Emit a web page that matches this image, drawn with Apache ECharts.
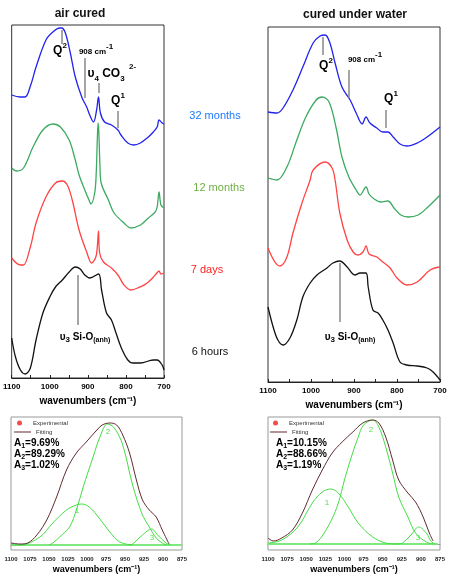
<!DOCTYPE html>
<html>
<head>
<meta charset="utf-8">
<script src="https://cdn.jsdelivr.net/npm/echarts@6/dist/echarts.min.js"></script>
<style>
  html, body { margin: 0; padding: 0; background: #fff; }
  #chart { width: 450px; height: 578px; }
</style>
</head>
<body>
<div id="chart"></div>
<script>
// ---- air cured (top left), wavenumber / absorbance (arb. units, offset) ----
const airWn32 = [1100, 1078, 1065, 1050, 1036, 1010, 992, 974, 969, 959, 946, 933, 915, 903, 895, 885, 877, 872, 867, 856, 838, 821, 813, 795, 779, 762, 744, 728, 718, 713, 705, 700]
const airAb32 = [283, 281, 281, 293, 311, 338, 346, 350, 350, 345, 325, 301, 280, 271, 263, 256, 268, 281, 265, 256, 253, 248, 243, 235, 233, 235, 240, 246, 251, 258, 255, 254]
const airWn12 = [1100, 1087, 1069, 1044, 1018, 992, 972, 949, 933, 923, 908, 897, 892, 882, 878, 875, 873, 871, 868, 865, 846, 831, 805, 787, 762, 741, 723, 718, 713, 708, 700]
const airAb12 = [210, 207, 210, 231, 248, 254, 251, 238, 218, 203, 188, 178, 174, 185, 205, 240, 255, 245, 210, 195, 178, 165, 155, 150, 153, 160, 166, 171, 186, 173, 170]
const airWn7d = [1100, 1077, 1069, 1051, 1036, 1010, 985, 967, 954, 941, 923, 903, 890, 879, 875, 872, 869, 859, 838, 821, 805, 787, 769, 744, 723, 713, 708, 700]
const airAb7d = [120, 113, 113, 131, 155, 181, 195, 197, 193, 178, 148, 126, 115, 121, 132, 147, 125, 116, 110, 103, 93, 88, 90, 95, 103, 107, 104, 105]
const airWn6h = [1100, 1090, 1077, 1064, 1051, 1036, 1018, 1000, 985, 967, 949, 933, 920, 908, 895, 872, 864, 851, 838, 826, 813, 795, 782, 762, 728, 718, 705, 700]
const airAb6h = [40, 21, 8, 4, 10, 38, 65, 81, 91, 98, 106, 111, 109, 103, 100, 104, 88, 65, 58, 45, 31, 18, 15, 15, 18, 18, 13, 8]

// ---- cured under water (top right) ----
const watWn32 = [1100, 1079, 1065, 1042, 1019, 995, 979, 967, 956, 944, 928, 909, 895, 881, 872, 863, 847, 833, 821, 809, 793, 777, 753, 730, 700]
const watAb32 = [270, 269, 274, 292, 315, 339, 346, 347, 339, 319, 295, 282, 269, 258, 265, 259, 254, 250, 250, 245, 238, 236, 239, 245, 255]
const watWn12 = [1100, 1079, 1056, 1033, 1012, 988, 974, 958, 942, 928, 912, 895, 886, 872, 865, 853, 837, 821, 807, 791, 774, 751, 728, 700]
const watAb12 = [204, 202, 215, 242, 265, 282, 285, 280, 255, 225, 205, 192, 187, 195, 188, 183, 180, 181, 174, 167, 165, 167, 175, 187]
const watWn7d = [1100, 1084, 1072, 1056, 1042, 1021, 1002, 995, 967, 951, 944, 933, 916, 902, 891, 879, 872, 865, 847, 833, 816, 800, 777, 753, 723, 700]
const watAb7d = [134, 120, 116, 125, 149, 179, 202, 212, 220, 214, 202, 169, 142, 130, 127, 130, 136, 128, 125, 120, 114, 104, 97, 100, 112, 115]
const watWn6h = [1100, 1088, 1077, 1065, 1049, 1033, 1019, 1002, 986, 963, 949, 933, 916, 898, 886, 872, 867, 856, 844, 833, 821, 809, 793, 777, 753, 730, 716, 700]
const watAb6h = [75, 55, 42, 37, 44, 62, 85, 99, 107, 114, 119, 121, 115, 107, 109, 109, 95, 72, 69, 62, 52, 39, 20, 17, 16, 14, 10, 2]

// ---- deconvolution, air cured (bottom left) ----
const fitAirWn = [1100, 1088, 1078, 1066, 1053, 1040, 1027, 1014, 1001, 987, 980, 970, 961, 953, 944, 935, 927, 918, 909, 901, 892]
const fitAirAb = [2, 1, 2, 10, 25, 48, 75, 92, 103, 115, 120, 122, 120, 110, 92, 65, 45, 35, 28, 15, 1]
const p1AirWn = [1100, 1088, 1062, 1045, 1027, 1014, 1007, 997, 984, 970, 957, 940]
const p1AirAb = [0, 0, 8, 22, 35, 40, 41, 38, 27, 13, 3, 0]
const p2AirWn = [1050, 1045, 1036, 1023, 1014, 1005, 992, 983, 973, 964, 953, 940, 927, 918, 909, 901, 895]
const p2AirAb = [0, 2, 8, 18, 35, 58, 88, 108, 121, 117, 100, 60, 30, 18, 7, 2, 0]
const p3AirWn = [945, 940, 927, 915, 907, 896, 890]
const p3AirAb = [0, 1, 10, 16, 10, 2, 0]

// ---- deconvolution, cured under water (bottom right) ----
const fitWatWn = [1100, 1093, 1082, 1068, 1055, 1042, 1029, 1016, 1003, 989, 976, 963, 955, 946, 937, 929, 917, 907, 897, 889, 884]
const fitWatAb = [6, 3, 6, 14, 31, 54, 74, 91, 102, 112, 121, 124, 121, 107, 84, 64, 51, 42, 27, 11, 3]
const p1WatWn = [1100, 1082, 1061, 1042, 1029, 1018, 1008, 995, 982, 963, 946, 929]
const p1WatAb = [1, 4, 17, 41, 52, 55, 51, 37, 21, 7, 1, 0]
const p2WatWn = [1045, 1038, 1030, 1017, 1008, 1000, 991, 982, 975, 963, 955, 946, 937, 929, 917, 907, 893, 884]
const p2WatAb = [0, 1, 7, 24, 41, 64, 87, 107, 119, 124, 117, 97, 71, 47, 27, 11, 2, 0]
const p3WatWn = [930, 924, 913, 903, 893, 887, 882]
const p3WatAb = [0, 1, 9, 17, 11, 3, 0]

const areasAir = [['1', '9.69%'], ['2', '89.29%'], ['3', '1.02%']]
const areasWat = [['1', '10.15%'], ['2', '88.66%'], ['3', '1.19%']]
const ageLabels = ['32 months', '12 months', '7 days', '6 hours']

const FONT = 'Liberation Sans, Arial, sans-serif'
const BLUE = '#2222ee'
const GREEN = '#3daa62'
const RED = '#ff4444'
const BLACK = '#111111'
const FITG = '#44dd44'
const FITC = '#5e2b2e'

const zip = (xs, ys) => xs.map((x, i) => [x, ys[i]])

const chart = echarts.init(document.getElementById('chart'))

function xAxisTop(grid) {
  return {
    gridIndex: grid, type: 'value', min: 700, max: 1100, interval: 50, inverse: true,
    axisLine: { show: true, lineStyle: { color: '#222', width: 1 } },
    axisTick: { show: true, inside: true, length: 3, lineStyle: { color: '#222' } },
    axisLabel: {
      margin: 5, fontSize: 8, fontWeight: 'bold', color: '#000', fontFamily: FONT,
      formatter: v => (v % 100 === 0 ? String(v) : ''), showMinLabel: true, showMaxLabel: true
    },
    splitLine: { show: false },
    name: 'wavenumbers (cm⁻¹)', nameLocation: 'middle', nameGap: 16,
    nameTextStyle: { fontSize: 10, fontWeight: 'bold', color: '#000', fontFamily: FONT }
  }
}
function xAxisBottom(grid) {
  return {
    gridIndex: grid, type: 'value', min: 875, max: 1100, interval: 25, inverse: true,
    axisLine: { show: true, lineStyle: { color: '#999', width: 1 } },
    axisTick: { show: false },
    axisLabel: { margin: 6, fontSize: 6, fontWeight: 'bold', color: '#222', fontFamily: FONT,
      formatter: v => String(v) },
    splitLine: { show: false },
    name: 'wavenumbers (cm⁻¹)', nameLocation: 'middle', nameGap: 15,
    nameTextStyle: { fontSize: 9, fontWeight: 'bold', color: '#000', fontFamily: FONT }
  }
}
function yAxisHidden(grid, min, max) {
  return { gridIndex: grid, type: 'value', min: min, max: max, show: false }
}

function curve(name, grid, xs, ys, color, width, extra) {
  return Object.assign({
    name: name, type: 'line', xAxisIndex: grid, yAxisIndex: grid,
    data: zip(xs, ys), smooth: 0.35, symbol: 'none', silent: true,
    lineStyle: { color: color, width: width }, itemStyle: { color: color }
  }, extra || {})
}

// vertical pointer lines (data coords)
function pointers(list) {
  return {
    silent: true, symbol: ['none', 'none'], label: { show: false },
    lineStyle: { color: '#888', width: 1.5, type: 'solid' },
    data: list.map(p => [{ coord: [p[0], p[1]] }, { coord: [p[0], p[2]] }])
  }
}

const rich = {
  b: { fontSize: 12, fontWeight: 'bold', fontFamily: FONT, color: '#111', lineHeight: 18 },
  m: { fontSize: 8, fontWeight: 'bold', fontFamily: FONT, color: '#111', lineHeight: 18 },
  sup: { fontSize: 8, fontWeight: 'bold', fontFamily: FONT, color: '#111', verticalAlign: 'top', lineHeight: 10 },
  sub: { fontSize: 8, fontWeight: 'bold', fontFamily: FONT, color: '#111', verticalAlign: 'bottom', lineHeight: 10 },
  s: { fontSize: 7, fontWeight: 'bold', fontFamily: FONT, color: '#111', verticalAlign: 'bottom', lineHeight: 9 },
  n: { fontSize: 10, fontWeight: 'bold', fontFamily: FONT, color: '#111', lineHeight: 13 }
}
function rt(x, y, text, align) {
  return { type: 'text', x: x, y: y, silent: true,
    style: { text: text, rich: rich, align: align || 'center', verticalAlign: 'middle' } }
}
function plain(x, y, text, size, color, weight, align) {
  return { type: 'text', x: x, y: y, silent: true,
    style: { text: text, fontSize: size, fill: color, fontWeight: weight || 'normal', fontFamily: FONT,
      align: align || 'center', verticalAlign: 'middle' } }
}
function areaText(x, y, a) {
  return rt(x, y, '{n|A}{s|' + a[0] + '}{n|=' + a[1] + '}', 'left')
}
function legendPair(left, top) {
  const txt = { fontSize: 6, color: '#333', fontFamily: FONT }
  return [
    { left: left + 3, top: top, padding: 0, itemWidth: 5, itemHeight: 5, itemGap: 0, selectedMode: false,
      icon: 'circle', data: ['Experimental'], textStyle: Object.assign({ padding: [0, 0, 0, 6] }, txt) },
    { left: left, top: top + 9, padding: 0, itemWidth: 17, itemHeight: 1, itemGap: 0, selectedMode: false,
      icon: 'rect', data: ['Fitting'], textStyle: Object.assign({ padding: [0, 0, 0, 0] }, txt) }
  ]
}

const option = {
  animation: false,
  grid: [
    { left: 8, top: 25, width: 156, height: 353, show: true, borderColor: '#333', borderWidth: 1 },
    { left: 268, top: 27, width: 172, height: 355, show: true, borderColor: '#333', borderWidth: 1 },
    { left: 11, top: 417, width: 171, height: 133, show: true, borderColor: '#999', borderWidth: 1 },
    { left: 268, top: 417, width: 172, height: 133, show: true, borderColor: '#999', borderWidth: 1 }
  ],
  xAxis: [xAxisTop(0), xAxisTop(1), xAxisBottom(2), xAxisBottom(3)],
  yAxis: [yAxisHidden(0, 0, 353), yAxisHidden(1, 0, 355), yAxisHidden(2, -5, 128), yAxisHidden(3, -6, 127)],
  legend: legendPair(14, 420).concat(legendPair(270, 420)),
  series: [
    curve('air 32', 0, airWn32, airAb32, BLUE, 1.3, {
      markLine: pointers([[969, 348, 334], [908, 320, 280], [872, 295, 285], [821, 267, 250]]) }),
    curve('air 12', 0, airWn12, airAb12, GREEN, 1.3),
    curve('air 7', 0, airWn7d, airAb7d, RED, 1.3),
    curve('air 6h', 0, airWn6h, airAb6h, BLACK, 1.3, {
      markLine: pointers([[926, 103, 53]]) }),

    curve('wat 32', 1, watWn32, watAb32, BLUE, 1.3, {
      markLine: pointers([[972, 345, 327], [912, 312, 284], [826, 272, 254]]) }),
    curve('wat 12', 1, watWn12, watAb12, GREEN, 1.3),
    curve('wat 7', 1, watWn7d, watAb7d, RED, 1.3),
    curve('wat 6h', 1, watWn6h, watAb6h, BLACK, 1.3, {
      markLine: pointers([[933, 119, 60]]) }),

    curve('base a', 2, [1100, 875], [0, 0], '#7fe87f', 2, { smooth: false }),
    curve('p1 a', 2, p1AirWn, p1AirAb, FITG, 1),
    curve('p2 a', 2, p2AirWn, p2AirAb, FITG, 1),
    curve('p3 a', 2, p3AirWn, p3AirAb, FITG, 1),
    curve('Fitting', 2, fitAirWn, fitAirAb, FITC, 1),

    curve('base w', 3, [1100, 878], [0, 0], '#7fe87f', 2, { smooth: false }),
    curve('p1 w', 3, p1WatWn, p1WatAb, FITG, 1),
    curve('p2 w', 3, p2WatWn, p2WatAb, FITG, 1),
    curve('p3 w', 3, p3WatWn, p3WatAb, FITG, 1),
    curve('Fitting', 3, fitWatWn, fitWatAb, FITC, 1),

    { name: 'Experimental', type: 'scatter', xAxisIndex: 2, yAxisIndex: 2, data: [],
      symbol: 'circle', symbolSize: 5,
      itemStyle: { color: '#ee2222' } }
  ],
  graphic: [
    plain(80, 14, 'air cured', 12, '#111', 'bold'),
    plain(355, 15, 'cured under water', 12, '#111', 'bold'),

    plain(215, 116, ageLabels[0], 11, '#1e7bff'),
    plain(219, 188, ageLabels[1], 11, '#6fb044'),
    plain(207, 270, ageLabels[2], 11, '#ff2222'),
    plain(210, 352, ageLabels[3], 11, '#111'),

    // annotations, air cured
    rt(60, 51, '{b|Q}{sup|2}'),
    rt(96, 52, '{m|908 cm}{sup|-1}'),
    rt(106, 74, '{b|υ}{sub|4}{b| CO}{sub|3}'),
    plain(129, 67, '2-', 8, '#111', 'bold', 'left'),
    rt(118, 101, '{b|Q}{sup|1}'),
    rt(85, 337, '{n|υ}{sub|3}{n| Si-O}{s|(anh)}'),

    // annotations, cured under water
    rt(326, 66, '{b|Q}{sup|2}'),
    rt(365, 60, '{m|908 cm}{sup|-1}'),
    rt(391, 99, '{b|Q}{sup|1}'),
    rt(350, 337, '{n|υ}{sub|3}{n| Si-O}{s|(anh)}'),

    // peak areas
    areaText(14, 443, areasAir[0]),
    areaText(14, 454, areasAir[1]),
    areaText(14, 465, areasAir[2]),
    areaText(276, 443, areasWat[0]),
    areaText(276, 454, areasWat[1]),
    areaText(276, 465, areasWat[2]),

    plain(77, 511, '1', 8, '#55dd55'),
    plain(108, 432, '2', 8, '#55dd55'),
    plain(152, 538, '3', 8, '#55dd55'),
    plain(327, 503, '1', 8, '#55dd55'),
    plain(371, 430, '2', 8, '#55dd55'),
    plain(418, 538, '3', 8, '#55dd55')
  ]
}

chart.setOption(option)
</script>
</body>
</html>
